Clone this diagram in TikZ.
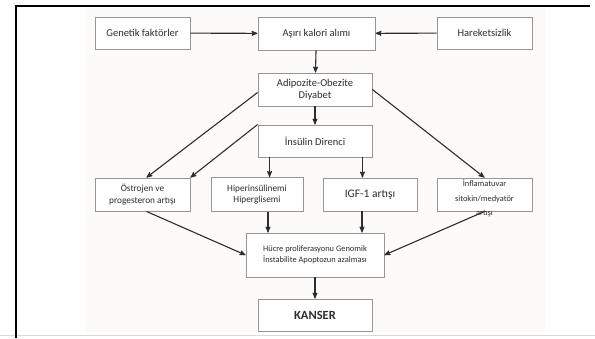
\documentclass[tikz,border=0pt]{standalone}
\usepackage{fontspec}
\setmainfont{Carlito}
\usepackage{tikz}
\usetikzlibrary{
  arrows,
  positioning,
  calc
}
\definecolor{boxgray}{RGB}{150,150,150}
\definecolor{inkgray}{RGB}{45,45,45}
\definecolor{paper}{RGB}{252,251,249}

\begin{document}
\begin{tikzpicture}[
      x=1pt,y=-1pt,
      factor/.style={
         rectangle,
         draw=boxgray,
         line width=0.9pt,
         fill=white,
         inner sep=2pt,
         align=center,
         text=inkgray,
         font=\fontsize{10.5}{12.5}\selectfont
      },
      small/.style={font=\fontsize{9.3}{11.5}\selectfont},
      tiny/.style={font=\fontsize{8.4}{10.5}\selectfont},
      >=stealth',line width=1.1pt,draw=inkgray,
      tip/.style={->,draw=inkgray,shorten >=0.007pt},
    ]
    \useasboundingbox (0,0) rectangle (595,338);
    % page frame
    \fill[paper] (85,8) rectangle (545,332);
    \draw[black!15,line width=1pt] (0,335.5) -- (595,335.5);
    \draw[black,line width=2pt] (16,6) -- (590,6);
    \draw[black,line width=2pt] (16,5) -- (16,338);
    % top row
    \node (gen) [factor, minimum width=95pt, minimum height=32pt] at (142.5,33) {Genetik faktörler};
    \node (kalori) [factor, minimum width=117pt, minimum height=33pt] at (316.5,33.5) {Aşırı kalori alımı};
    \node (hareket) [factor, minimum width=95pt, minimum height=32pt] at (484.5,33) {Hareketsizlik};
    % middle column
    \node (obez) [factor, minimum width=114pt, minimum height=33pt] at (315,89.5) {Adipozite-Obezite\\Diyabet};
    \node (direnc) [factor, minimum width=114pt, minimum height=32pt] at (315,141) {İnsülin Direnci};
    % effects row
    \node (ostro) [factor, small, minimum width=95pt, minimum height=33pt] at (142.5,194.5) {Östrojen ve\\progesteron artışı};
    \node (hiper) [factor, small, minimum width=92pt, minimum height=34pt] at (257,194.5) {Hiperinsülinemi\\Hiperglisemi};
    \node (igf) [factor, font=\fontsize{11.5}{13}\selectfont, minimum width=94pt, minimum height=33pt] at (370,194.5) {IGF-1 artışı};
    \node (infl) [factor, minimum width=95pt, minimum height=33pt] at (484.5,194.5) {};
    \node (infltext) [text=inkgray, align=center, inner sep=0pt,
       font=\fontsize{8.4}{14.5}\selectfont] at ([yshift=-4]infl.center) {İnflamatuvar\\sitokin/medyatör\\artışı};
    % outcome
    \node (hucre) [factor, tiny, minimum width=138pt, minimum height=44pt] at (315,255) {Hücre proliferasyonu Genomik\\İnstabilite Apoptozun azalması};
    \node (kanser) [factor, font=\bfseries\fontsize{12.5}{14}\selectfont, minimum width=114pt, minimum height=32pt] at (315,315) {KANSER};
    % connectors
    \draw[tip] (gen) -- (kalori);
    \draw[tip] (hareket) -- (kalori);
    \draw[tip] (kalori) -- (obez);
    \draw[tip] (obez) -- (direnc);
    \draw[tip] ([yshift=-3]obez.west) -- ([xshift=4]ostro.north);
    \draw[tip] (direnc.north west) -- (ostro.north east);
    \draw[tip] (obez.east) -- (infl.north);
    \draw[tip] ([xshift=12]direnc.south west) -- ([xshift=12]direnc.south west |- hiper.north);
    \draw[tip] ([xshift=-10]direnc.south east) -- ([xshift=-10]direnc.south east |- igf.north);
    \draw[tip] ([xshift=4]ostro.south) -- (hucre.west);
    \draw[tip] ([xshift=11]hiper.south) -- ([xshift=11]hiper.south |- hucre.north);
    \draw[tip] ([xshift=-8]igf.south) -- ([xshift=-8]igf.south |- hucre.north);
    \draw[tip] (infl.south) -- (hucre.east);
    \draw[tip] (hucre) -- (kanser);
\end{tikzpicture}
\end{document}
